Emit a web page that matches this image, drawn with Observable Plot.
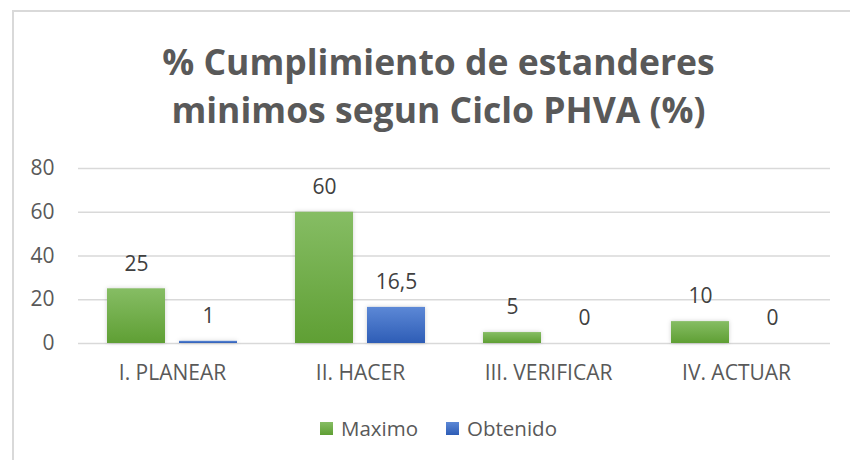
<!DOCTYPE html>
<html><head><meta charset="utf-8">
<script src="https://cdn.jsdelivr.net/npm/d3@7"></script>
<script src="https://cdn.jsdelivr.net/npm/@observablehq/plot@0.6"></script>
<style>
body{margin:0;background:#fff;width:850px;height:460px;overflow:hidden;position:relative;font-family:"Open Sans",sans-serif;}
#frame{position:absolute;left:12px;top:10px;width:900px;height:500px;border:2px solid #d9d9d9;box-sizing:border-box}
#title{position:absolute;left:12px;width:853px;top:37px;text-align:center;font-weight:700;font-size:35.5px;line-height:48px;color:#595959;white-space:nowrap}
#chart{position:absolute;left:0;top:140px}
#legend{position:absolute;left:12px;width:853px;top:414px;display:flex;justify-content:center;align-items:center;font-size:20.5px;color:#595959}
.item{display:flex;align-items:center;margin:0 14px}
.sw{width:13px;height:13px;margin-right:8px}
</style></head>
<body>
<div id="frame"></div>
<div id="title">% Cumplimiento de estanderes<br>minimos segun Ciclo PHVA (%)</div>
<div id="chart"></div>
<div id="legend"></div>
<script>
const categories = ["I. PLANEAR", "II. HACER", "III. VERIFICAR", "IV. ACTUAR"];
const series = ["Maximo", "Obtenido"];
const maximo = [25, 60, 5, 10];
const obtenido = [1, 16.5, 0, 0];
const yTicks = [0, 20, 40, 60, 80];
const gradients = {Maximo: ["#86bd64", "#5f9f34"], Obtenido: ["#5c88d6", "#2e5db6"]};
const gradIds = {Maximo: "gMax", Obtenido: "gObt"};

const rows = categories.flatMap((c, i) => [
  {cat: c, serie: "Maximo", value: maximo[i]},
  {cat: c, serie: "Obtenido", value: obtenido[i]}
]);

const plot = Plot.plot({
  width: 850, height: 260,
  marginLeft: 77, marginRight: 19, marginTop: 28, marginBottom: 57,
  style: {fontFamily: "Open Sans", fontSize: "21px", color: "#595959", background: "transparent"},
  fx: {domain: categories, padding: 0, label: null, axis: "bottom", tickSize: 0, tickPadding: 22},
  x: {domain: series, paddingInner: 0.19, paddingOuter: 0.386, axis: null},
  y: {domain: [0, 80], ticks: yTicks, tickSize: 0, tickPadding: 24, label: null},
  marks: [
    Plot.ruleY(yTicks, {stroke: "#d9d9d9", strokeWidth: 1.5}),
    ...series.map(s => Plot.barY(rows.filter(d => d.serie === s), {
      fx: "cat", x: "serie", y: "value", fill: `url(#${gradIds[s]})`
    })),
    Plot.text(rows, {
      fx: "cat", x: "serie", y: "value",
      text: d => String(d.value).replace(".", ","),
      dy: -25, fill: "#404040", fontSize: 21
    })
  ]
});

const svg = d3.select(plot);
const defs = svg.insert("defs", ":first-child");
series.forEach(s => {
  const g = defs.append("linearGradient").attr("id", gradIds[s])
    .attr("x1", 0).attr("y1", 0).attr("x2", 0).attr("y2", 1);
  g.append("stop").attr("offset", "0%").attr("stop-color", gradients[s][0]);
  g.append("stop").attr("offset", "100%").attr("stop-color", gradients[s][1]);
});
svg.selectAll("rect").filter(function(){ return (this.getAttribute("fill")||"").startsWith("url") || (this.parentNode.getAttribute("fill")||"").startsWith("url"); })
  .style("filter", "drop-shadow(0 0 2px rgba(0,0,0,0.18))");

document.getElementById("chart").appendChild(plot);

const legend = d3.select("#legend");
series.forEach(s => {
  const it = legend.append("div").attr("class", "item");
  it.append("div").attr("class", "sw")
    .style("background", `linear-gradient(${gradients[s][0]}, ${gradients[s][1]})`);
  it.append("span").text(s);
});
</script>
</body></html>
